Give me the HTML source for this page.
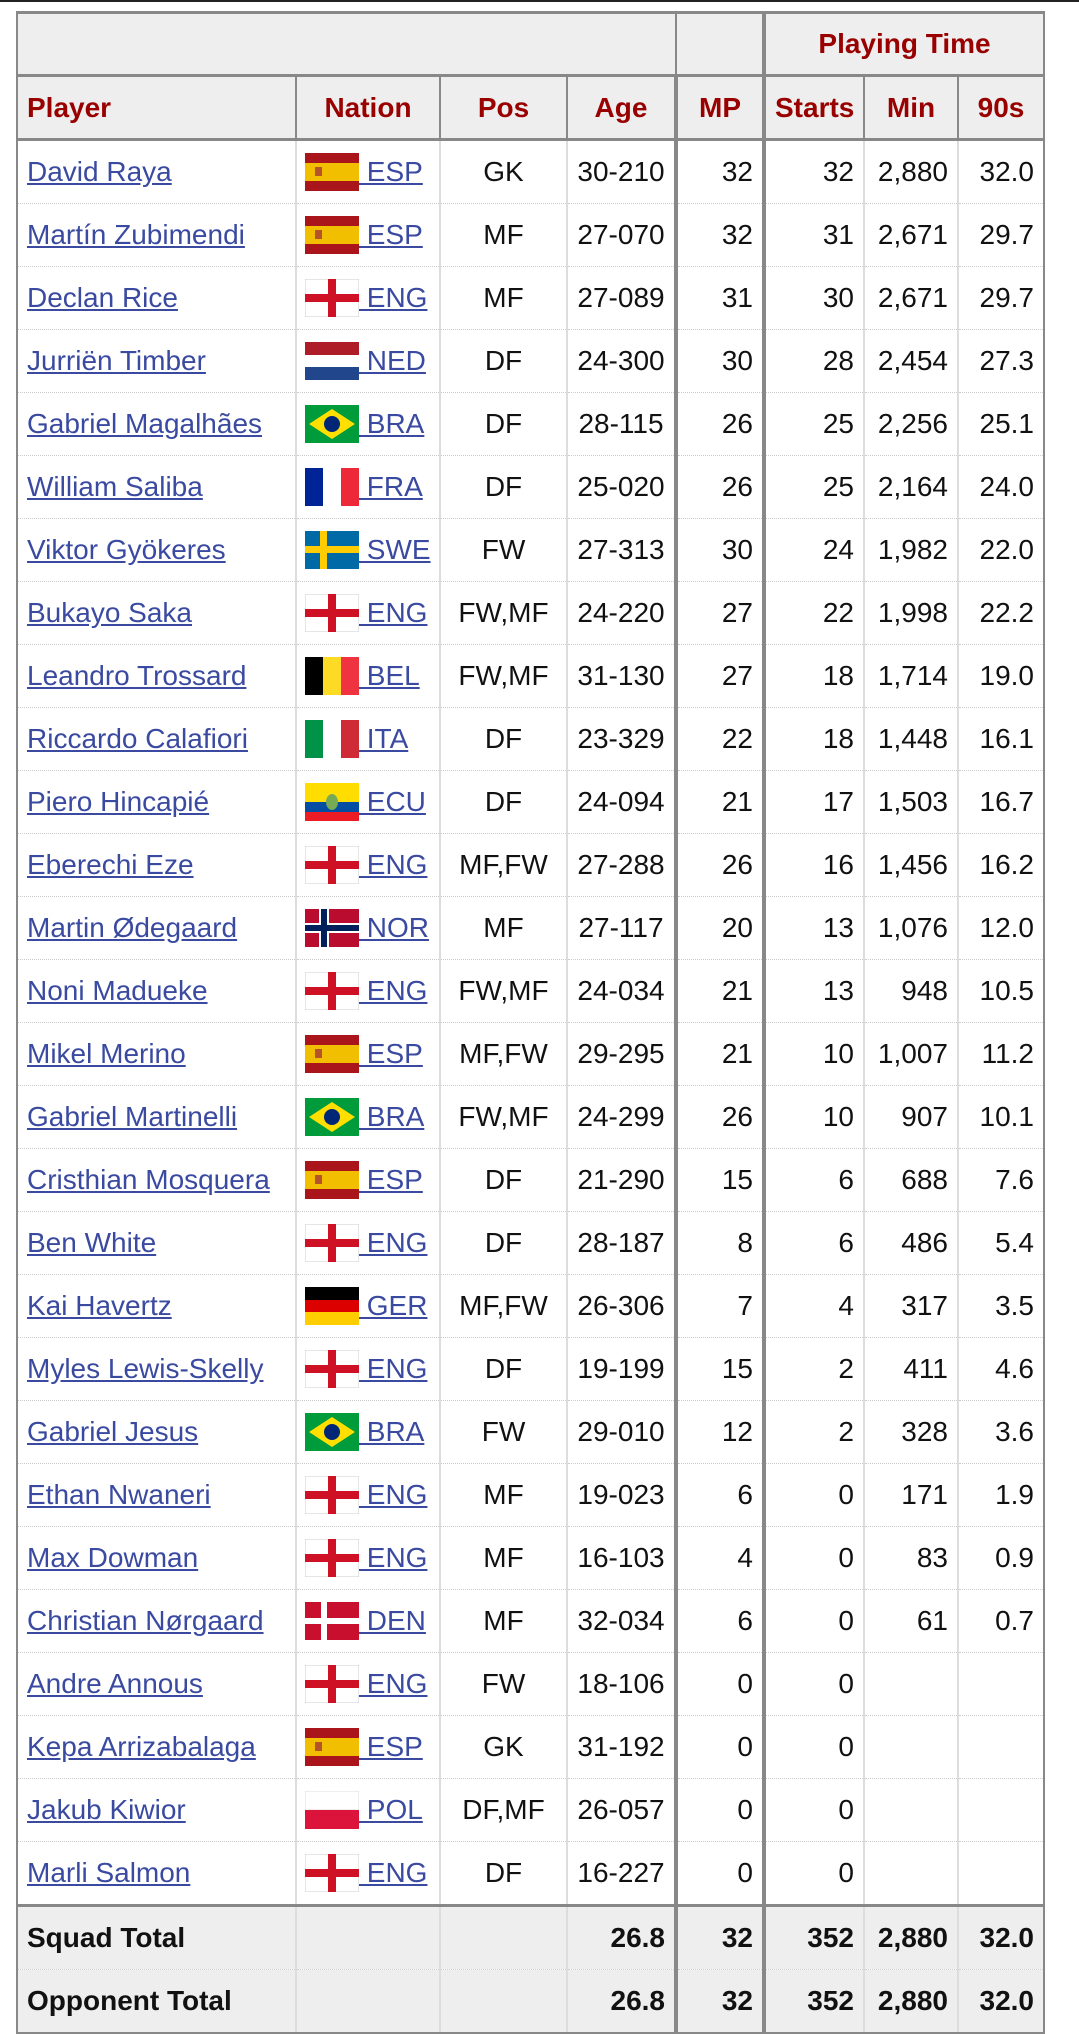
<!DOCTYPE html>
<html><head><meta charset="utf-8"><style>
html,body{margin:0;padding:0;background:#fff;width:1079px;height:2032px;overflow:hidden}
.top{position:absolute;left:0;top:0;width:1079px;height:2px;background:#222}
table{position:absolute;left:16px;top:11px;border-collapse:collapse;table-layout:fixed;width:1027px;font-family:"Liberation Sans",Arial,sans-serif;font-size:28px;color:#111;border-left:2px solid #888}
td,th{padding:0 9px;white-space:nowrap;overflow:hidden;border-left:2px solid #ddd;border-bottom:1px dotted #ccc}
th{background:#eee;color:#900;font-weight:bold;border:2px solid #888;border-top:0}
tr.h1 th{height:60px;border-top:3px solid #888;border-bottom:3px solid #888}
tr.h2 th{height:61px;border-bottom:3px solid #888}
tr.d td{height:62px}
td.p{text-align:left;border-left:2px solid #888}
td.n{padding-left:8px;padding-right:4px}
td.c{text-align:center;padding-left:6px;padding-right:6px}
td.r{text-align:right}
a{color:#3a4aa0;text-decoration:underline}
.f{display:inline-block;width:54px;height:38px;vertical-align:middle}
.f svg{display:block}
td.n a{vertical-align:middle}
.b{border-left:4px solid #888 !important}
tr.t td{background:#eee;font-weight:bold;height:62px;border-bottom:1px dotted #ccc}
tr.t1{border-top:3px solid #888}
tr.t:last-child td{border-bottom:2px solid #888}
td.e{border-right:2px solid #888}
</style></head><body>
<div class="top"></div>
<svg width="0" height="0" style="position:absolute">
<defs>
<symbol id="ESP" viewBox="0 0 54 38"><rect width="54" height="38" fill="#aa151b"/><rect y="10" width="54" height="18" fill="#f1bf00"/><rect x="10" y="14" width="7" height="9" fill="#b5542a"/></symbol>
<symbol id="ENG" viewBox="0 0 54 38"><rect width="54" height="38" fill="#fff" stroke="#ccc"/><rect x="23" width="8" height="38" fill="#ce1124"/><rect y="15" width="54" height="8" fill="#ce1124"/></symbol>
<symbol id="NED" viewBox="0 0 54 38"><rect width="54" height="13" fill="#ae1c28"/><rect y="13" width="54" height="12" fill="#fff"/><rect y="25" width="54" height="13" fill="#21468b"/></symbol>
<symbol id="BRA" viewBox="0 0 54 38"><rect width="54" height="38" fill="#009c3b"/><polygon points="27,4 50,19 27,34 4,19" fill="#ffdf00"/><circle cx="27" cy="19" r="8" fill="#002776"/></symbol>
<symbol id="FRA" viewBox="0 0 54 38"><rect width="18" height="38" fill="#002395"/><rect x="18" width="18" height="38" fill="#fff"/><rect x="36" width="18" height="38" fill="#ed2939"/></symbol>
<symbol id="SWE" viewBox="0 0 54 38"><rect width="54" height="38" fill="#006aa7"/><rect x="15" width="7" height="38" fill="#fecc00"/><rect y="15" width="54" height="7" fill="#fecc00"/></symbol>
<symbol id="BEL" viewBox="0 0 54 38"><rect width="18" height="38" fill="#000"/><rect x="18" width="18" height="38" fill="#fdda24"/><rect x="36" width="18" height="38" fill="#ef3340"/></symbol>
<symbol id="ITA" viewBox="0 0 54 38"><rect width="18" height="38" fill="#009246"/><rect x="18" width="18" height="38" fill="#fff"/><rect x="36" width="18" height="38" fill="#ce2b37"/></symbol>
<symbol id="ECU" viewBox="0 0 54 38"><rect width="54" height="19" fill="#ffdd00"/><rect y="19" width="54" height="10" fill="#034ea2"/><rect y="29" width="54" height="9" fill="#ed1c24"/><ellipse cx="27" cy="19" rx="6" ry="8" fill="#7a5"/></symbol>
<symbol id="NOR" viewBox="0 0 54 38"><rect width="54" height="38" fill="#ba0c2f"/><rect x="14" width="10" height="38" fill="#fff"/><rect y="14" width="54" height="10" fill="#fff"/><rect x="16" width="6" height="38" fill="#00205b"/><rect y="16" width="54" height="6" fill="#00205b"/></symbol>
<symbol id="GER" viewBox="0 0 54 38"><rect width="54" height="13" fill="#000"/><rect y="13" width="54" height="12" fill="#dd0000"/><rect y="25" width="54" height="13" fill="#ffce00"/></symbol>
<symbol id="DEN" viewBox="0 0 54 38"><rect width="54" height="38" fill="#c8102e"/><rect x="16" width="6" height="38" fill="#fff"/><rect y="16" width="54" height="6" fill="#fff"/></symbol>
<symbol id="POL" viewBox="0 0 54 38"><rect width="54" height="19" fill="#fff" stroke="#ddd"/><rect y="19" width="54" height="19" fill="#dc143c"/></symbol>
</defs></svg>
<table>
<colgroup><col style="width:279px"><col style="width:144px"><col style="width:127px"><col style="width:109px"><col style="width:88px"><col style="width:100px"><col style="width:94px"><col style="width:86px"></colgroup>
<tr class="h1"><th colspan="4"></th><th></th><th colspan="3" class="b" style="text-align:center">Playing Time</th></tr>
<tr class="h2"><th style="text-align:left">Player</th><th>Nation</th><th>Pos</th><th>Age</th><th class="b">MP</th><th class="b">Starts</th><th>Min</th><th>90s</th></tr>
<tbody>
<tr class="d"><td class="p"><a>David Raya</a></td><td class="n"><span class="f"><svg width="54" height="38"><use href="#ESP"/></svg></span><a> ESP</a></td><td class="c">GK</td><td class="c">30-210</td><td class="r b">32</td><td class="r b">32</td><td class="r">2,880</td><td class="r e">32.0</td></tr>
<tr class="d"><td class="p"><a>Martín Zubimendi</a></td><td class="n"><span class="f"><svg width="54" height="38"><use href="#ESP"/></svg></span><a> ESP</a></td><td class="c">MF</td><td class="c">27-070</td><td class="r b">32</td><td class="r b">31</td><td class="r">2,671</td><td class="r e">29.7</td></tr>
<tr class="d"><td class="p"><a>Declan Rice</a></td><td class="n"><span class="f"><svg width="54" height="38"><use href="#ENG"/></svg></span><a> ENG</a></td><td class="c">MF</td><td class="c">27-089</td><td class="r b">31</td><td class="r b">30</td><td class="r">2,671</td><td class="r e">29.7</td></tr>
<tr class="d"><td class="p"><a>Jurriën Timber</a></td><td class="n"><span class="f"><svg width="54" height="38"><use href="#NED"/></svg></span><a> NED</a></td><td class="c">DF</td><td class="c">24-300</td><td class="r b">30</td><td class="r b">28</td><td class="r">2,454</td><td class="r e">27.3</td></tr>
<tr class="d"><td class="p"><a>Gabriel Magalhães</a></td><td class="n"><span class="f"><svg width="54" height="38"><use href="#BRA"/></svg></span><a> BRA</a></td><td class="c">DF</td><td class="c">28-115</td><td class="r b">26</td><td class="r b">25</td><td class="r">2,256</td><td class="r e">25.1</td></tr>
<tr class="d"><td class="p"><a>William Saliba</a></td><td class="n"><span class="f"><svg width="54" height="38"><use href="#FRA"/></svg></span><a> FRA</a></td><td class="c">DF</td><td class="c">25-020</td><td class="r b">26</td><td class="r b">25</td><td class="r">2,164</td><td class="r e">24.0</td></tr>
<tr class="d"><td class="p"><a>Viktor Gyökeres</a></td><td class="n"><span class="f"><svg width="54" height="38"><use href="#SWE"/></svg></span><a> SWE</a></td><td class="c">FW</td><td class="c">27-313</td><td class="r b">30</td><td class="r b">24</td><td class="r">1,982</td><td class="r e">22.0</td></tr>
<tr class="d"><td class="p"><a>Bukayo Saka</a></td><td class="n"><span class="f"><svg width="54" height="38"><use href="#ENG"/></svg></span><a> ENG</a></td><td class="c">FW,MF</td><td class="c">24-220</td><td class="r b">27</td><td class="r b">22</td><td class="r">1,998</td><td class="r e">22.2</td></tr>
<tr class="d"><td class="p"><a>Leandro Trossard</a></td><td class="n"><span class="f"><svg width="54" height="38"><use href="#BEL"/></svg></span><a> BEL</a></td><td class="c">FW,MF</td><td class="c">31-130</td><td class="r b">27</td><td class="r b">18</td><td class="r">1,714</td><td class="r e">19.0</td></tr>
<tr class="d"><td class="p"><a>Riccardo Calafiori</a></td><td class="n"><span class="f"><svg width="54" height="38"><use href="#ITA"/></svg></span><a> ITA</a></td><td class="c">DF</td><td class="c">23-329</td><td class="r b">22</td><td class="r b">18</td><td class="r">1,448</td><td class="r e">16.1</td></tr>
<tr class="d"><td class="p"><a>Piero Hincapié</a></td><td class="n"><span class="f"><svg width="54" height="38"><use href="#ECU"/></svg></span><a> ECU</a></td><td class="c">DF</td><td class="c">24-094</td><td class="r b">21</td><td class="r b">17</td><td class="r">1,503</td><td class="r e">16.7</td></tr>
<tr class="d"><td class="p"><a>Eberechi Eze</a></td><td class="n"><span class="f"><svg width="54" height="38"><use href="#ENG"/></svg></span><a> ENG</a></td><td class="c">MF,FW</td><td class="c">27-288</td><td class="r b">26</td><td class="r b">16</td><td class="r">1,456</td><td class="r e">16.2</td></tr>
<tr class="d"><td class="p"><a>Martin Ødegaard</a></td><td class="n"><span class="f"><svg width="54" height="38"><use href="#NOR"/></svg></span><a> NOR</a></td><td class="c">MF</td><td class="c">27-117</td><td class="r b">20</td><td class="r b">13</td><td class="r">1,076</td><td class="r e">12.0</td></tr>
<tr class="d"><td class="p"><a>Noni Madueke</a></td><td class="n"><span class="f"><svg width="54" height="38"><use href="#ENG"/></svg></span><a> ENG</a></td><td class="c">FW,MF</td><td class="c">24-034</td><td class="r b">21</td><td class="r b">13</td><td class="r">948</td><td class="r e">10.5</td></tr>
<tr class="d"><td class="p"><a>Mikel Merino</a></td><td class="n"><span class="f"><svg width="54" height="38"><use href="#ESP"/></svg></span><a> ESP</a></td><td class="c">MF,FW</td><td class="c">29-295</td><td class="r b">21</td><td class="r b">10</td><td class="r">1,007</td><td class="r e">11.2</td></tr>
<tr class="d"><td class="p"><a>Gabriel Martinelli</a></td><td class="n"><span class="f"><svg width="54" height="38"><use href="#BRA"/></svg></span><a> BRA</a></td><td class="c">FW,MF</td><td class="c">24-299</td><td class="r b">26</td><td class="r b">10</td><td class="r">907</td><td class="r e">10.1</td></tr>
<tr class="d"><td class="p"><a>Cristhian Mosquera</a></td><td class="n"><span class="f"><svg width="54" height="38"><use href="#ESP"/></svg></span><a> ESP</a></td><td class="c">DF</td><td class="c">21-290</td><td class="r b">15</td><td class="r b">6</td><td class="r">688</td><td class="r e">7.6</td></tr>
<tr class="d"><td class="p"><a>Ben White</a></td><td class="n"><span class="f"><svg width="54" height="38"><use href="#ENG"/></svg></span><a> ENG</a></td><td class="c">DF</td><td class="c">28-187</td><td class="r b">8</td><td class="r b">6</td><td class="r">486</td><td class="r e">5.4</td></tr>
<tr class="d"><td class="p"><a>Kai Havertz</a></td><td class="n"><span class="f"><svg width="54" height="38"><use href="#GER"/></svg></span><a> GER</a></td><td class="c">MF,FW</td><td class="c">26-306</td><td class="r b">7</td><td class="r b">4</td><td class="r">317</td><td class="r e">3.5</td></tr>
<tr class="d"><td class="p"><a>Myles Lewis-Skelly</a></td><td class="n"><span class="f"><svg width="54" height="38"><use href="#ENG"/></svg></span><a> ENG</a></td><td class="c">DF</td><td class="c">19-199</td><td class="r b">15</td><td class="r b">2</td><td class="r">411</td><td class="r e">4.6</td></tr>
<tr class="d"><td class="p"><a>Gabriel Jesus</a></td><td class="n"><span class="f"><svg width="54" height="38"><use href="#BRA"/></svg></span><a> BRA</a></td><td class="c">FW</td><td class="c">29-010</td><td class="r b">12</td><td class="r b">2</td><td class="r">328</td><td class="r e">3.6</td></tr>
<tr class="d"><td class="p"><a>Ethan Nwaneri</a></td><td class="n"><span class="f"><svg width="54" height="38"><use href="#ENG"/></svg></span><a> ENG</a></td><td class="c">MF</td><td class="c">19-023</td><td class="r b">6</td><td class="r b">0</td><td class="r">171</td><td class="r e">1.9</td></tr>
<tr class="d"><td class="p"><a>Max Dowman</a></td><td class="n"><span class="f"><svg width="54" height="38"><use href="#ENG"/></svg></span><a> ENG</a></td><td class="c">MF</td><td class="c">16-103</td><td class="r b">4</td><td class="r b">0</td><td class="r">83</td><td class="r e">0.9</td></tr>
<tr class="d"><td class="p"><a>Christian Nørgaard</a></td><td class="n"><span class="f"><svg width="54" height="38"><use href="#DEN"/></svg></span><a> DEN</a></td><td class="c">MF</td><td class="c">32-034</td><td class="r b">6</td><td class="r b">0</td><td class="r">61</td><td class="r e">0.7</td></tr>
<tr class="d"><td class="p"><a>Andre Annous</a></td><td class="n"><span class="f"><svg width="54" height="38"><use href="#ENG"/></svg></span><a> ENG</a></td><td class="c">FW</td><td class="c">18-106</td><td class="r b">0</td><td class="r b">0</td><td class="r"></td><td class="r e"></td></tr>
<tr class="d"><td class="p"><a>Kepa Arrizabalaga</a></td><td class="n"><span class="f"><svg width="54" height="38"><use href="#ESP"/></svg></span><a> ESP</a></td><td class="c">GK</td><td class="c">31-192</td><td class="r b">0</td><td class="r b">0</td><td class="r"></td><td class="r e"></td></tr>
<tr class="d"><td class="p"><a>Jakub Kiwior</a></td><td class="n"><span class="f"><svg width="54" height="38"><use href="#POL"/></svg></span><a> POL</a></td><td class="c">DF,MF</td><td class="c">26-057</td><td class="r b">0</td><td class="r b">0</td><td class="r"></td><td class="r e"></td></tr>
<tr class="d"><td class="p"><a>Marli Salmon</a></td><td class="n"><span class="f"><svg width="54" height="38"><use href="#ENG"/></svg></span><a> ENG</a></td><td class="c">DF</td><td class="c">16-227</td><td class="r b">0</td><td class="r b">0</td><td class="r"></td><td class="r e"></td></tr>
<tr class="t t1"><td class="p">Squad Total</td><td></td><td></td><td class="r">26.8</td><td class="r b">32</td><td class="r b">352</td><td class="r">2,880</td><td class="r e">32.0</td></tr>
<tr class="t"><td class="p">Opponent Total</td><td></td><td></td><td class="r">26.8</td><td class="r b">32</td><td class="r b">352</td><td class="r">2,880</td><td class="r e">32.0</td></tr>
</tbody>
</table>
</body></html>
